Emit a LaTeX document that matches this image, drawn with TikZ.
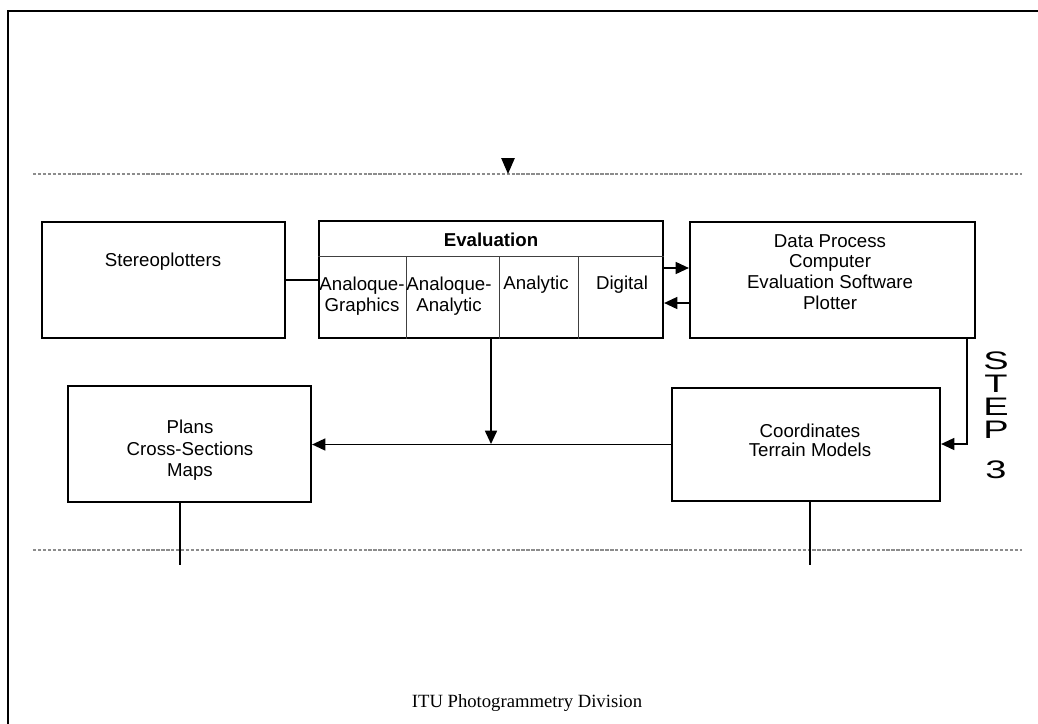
\documentclass[tikz,border=0pt]{standalone}
\usepackage{fontspec}
\usepackage{graphicx}
\setmainfont{Liberation Sans}
\newfontfamily\footserif{Liberation Serif}
\usetikzlibrary{arrows.meta}
\newcommand\pxu{0.75pt}
\begin{document}
\begin{tikzpicture}[x=0.75pt,y=-0.75pt,
  box/.style={draw, line width=1.6pt, rectangle, inner sep=0pt},
  txt/.style={font=\fontsize{14}{15.4}\selectfont, align=center, inner sep=0pt},
  conn/.style={line width=1.3pt},
  arr/.style={conn, -{Triangle[length=10pt,width=9pt]}},
  sepline/.style={line width=0.7pt, draw=black!75},
  guide/.style={draw=black!45, dash pattern=on 2.5pt off 1.2pt, line width=0.9pt},
  steplet/.style={font=\fontsize{19}{19}\selectfont, inner sep=0pt}]
\useasboundingbox (0,0) rectangle (1038,724);
% frame
\draw[line width=1.6pt] (1038,11) -- (8,11) -- (8,724);
% guide lines
\coordinate (gtl) at (33,174);
\coordinate (gtr) at (1022,174);
\coordinate (gbl) at (33,550);
\coordinate (gbr) at (1022,550);
\draw[guide] (gtl) -- (gtr);
\draw[guide] (gbl) -- (gbr);
% top arrow
\coordinate (ta0) at (508,160);
\coordinate (ta1) at (508,174);
\draw[conn, -{Triangle[length=12pt,width=10pt]}] (ta0) -- (ta1);
% boxes
\node[box, minimum width=243*\pxu, minimum height=116*\pxu] (stereo) at (163.5,280) {};
\node[box, minimum width=344*\pxu, minimum height=117*\pxu] (eval) at (491,279.5) {};
\node[box, minimum width=285*\pxu, minimum height=116*\pxu] (data) at (832.5,280) {};
\node[box, minimum width=243*\pxu, minimum height=116*\pxu] (plans) at (189.5,444) {};
\node[box, minimum width=268*\pxu, minimum height=113*\pxu] (coord) at (806,444.5) {};
% evaluation inner grid
\draw[sepline] (eval.west |- 0,256) -- (eval.east |- 0,256);
\draw[sepline] (406,256) -- (eval.south -| 406,0);
\draw[sepline] (499,256) -- (eval.south -| 499,0);
\draw[sepline] (578,256) -- (eval.south -| 578,0);
% texts
\node[txt] (stereo-t) at (163,262) {Stereoplotters};
\node[txt, font=\fontsize{14}{15.4}\selectfont\bfseries] (eval-t) at (491,240) {Evaluation};
\node[txt] (ag-t) at (362,296) {Analoque-\\Graphics};
\node[txt] (aa-t) at (449,296) {Analoque-\\Analytic};
\node[txt] (an-t) at (536,285) {Analytic};
\node[txt] (dg-t) at (622,285) {Digital};
\node[txt, font=\fontsize{14}{15.6}\selectfont] (data-t) at (830,272) {Data Process\\Computer\\Evaluation Software\\Plotter};
\node[txt, font=\fontsize{14}{16}\selectfont] (plans-t) at (190,450.5) {Plans\\Cross-Sections\\Maps};
\node[txt, font=\fontsize{14}{14.5}\selectfont] (coord-t) at (810,440.5) {Coordinates\\Terrain Models};
% STEP 3
\node[steplet] (s1) at (996,361) {\scalebox{1.5}[1]{S}};
\node[steplet] (s2) at (996,384) {\scalebox{1.5}[1]{T}};
\node[steplet] (s3) at (996,407) {\scalebox{1.5}[1]{E}};
\node[steplet] (s4) at (996,430) {\scalebox{1.5}[1]{P}};
\node[steplet] (s5) at (996,470) {\scalebox{1.5}[1]{3}};
% connectors
\draw[conn] (stereo.east) -- (stereo.east -| eval.west);
\draw[arr] (eval.east |- 0,268) -- (data.west |- 0,268);
\draw[arr] (data.west |- 0,303) -- (eval.east |- 0,303);
\coordinate (stepcorner) at (967,444);
\draw[arr] (data.south -| stepcorner) -- (stepcorner) -- (coord.east |- stepcorner);
\draw[arr] (eval.south) -- (eval.south |- plans.east);
\draw[arr] (coord.west) -- (coord.west -| plans.east);
\coordinate (pl-end) at (180,565);
\coordinate (co-end) at (810,565);
\draw[conn] (plans.south -| pl-end) -- (pl-end);
\draw[conn] (coord.south -| co-end) -- (co-end);
% footer
\node[inner sep=0pt, font=\footserif\fontsize{14}{16}\selectfont] (foot) at (527,703) {ITU Photogrammetry Division};
\end{tikzpicture}
\end{document}
